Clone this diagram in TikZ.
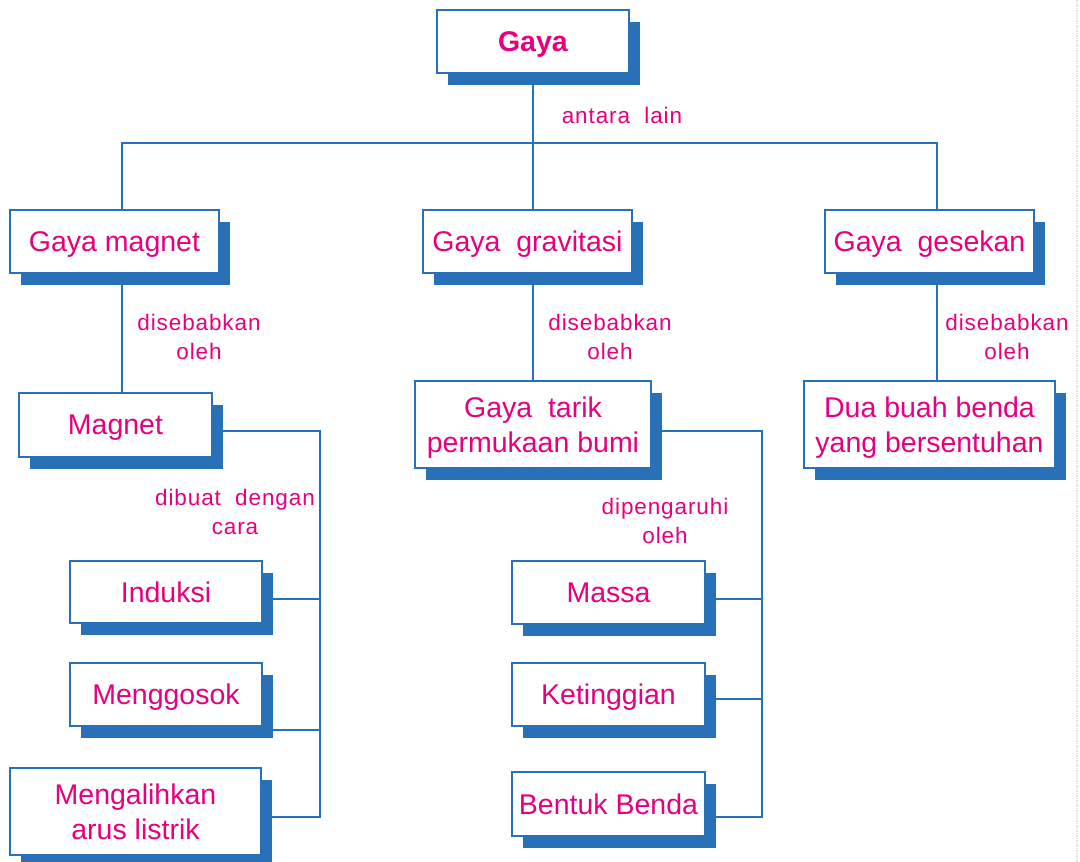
\documentclass[tikz,border=0pt]{standalone}
\usepackage{fontspec}
\setmainfont{Liberation Sans}
\newfontfamily\labelfont[LetterSpace=4]{Liberation Sans}
\usetikzlibrary{shadows,backgrounds,positioning}
\definecolor{mapblue}{RGB}{40,112,184}
\definecolor{mapmagenta}{RGB}{230,0,126}

\begin{document}
\begin{tikzpicture}[
        x=1pt, y=-1pt,
        concept/.style={rectangle, draw=mapblue, line width=1.6pt, fill=white, text=mapmagenta,
            font=\fontsize{28.5}{35}\selectfont, align=center, inner sep=0pt, text depth=0pt,
            drop shadow={shadow xshift=11pt, shadow yshift=-12pt, fill=mapblue, opacity=1}},
        caption/.style={text=mapmagenta, font=\labelfont\fontsize{22.5}{28.5}\selectfont, align=center, inner sep=0pt},
        link/.style={draw=mapblue, line width=2pt}
    ]
        \useasboundingbox (0,0) rectangle (1080,862);

        % Top concept
        \node[concept, minimum width=192pt, minimum height=63pt] (gaya) at (533,41.5) {\textbf{Gaya}};

        % Kinds of force
        \node[concept, minimum width=209pt, minimum height=63pt] (gmag) at (114.5,241.5) {Gaya magnet};
        \node[concept, minimum width=209pt, minimum height=63pt] (ggrav) at (527.5,241.5) {Gaya\ \ gravitasi};
        \node[concept, minimum width=209pt, minimum height=63pt] (ggesek) at (929.5,241.5) {Gaya\ \ gesekan};

        % Causes
        \node[concept, minimum width=193pt, minimum height=64pt] (magnet) at (115.5,425) {Magnet};
        \node[concept, minimum width=236pt, minimum height=87pt] (gtarik) at (533,424.5) {Gaya\ \ tarik\\permukaan bumi};
        \node[concept, minimum width=251pt, minimum height=87pt] (dua) at (929.5,424.5) {Dua buah benda\\yang bersentuhan};

        % Ways to make a magnet
        \node[concept, minimum width=192pt, minimum height=62pt] (induksi) at (166,592) {Induksi};
        \node[concept, minimum width=192pt, minimum height=63pt] (gosok) at (166,694.5) {Menggosok};
        \node[concept, minimum width=251pt, minimum height=87pt] (alihkan) at (135.5,811.5) {Mengalihkan\\arus listrik};

        % What gravity depends on
        \node[concept, minimum width=193pt, minimum height=63pt] (massa) at (608.5,592.5) {Massa};
        \node[concept, minimum width=193pt, minimum height=63pt] (tinggi) at (608.5,694.5) {Ketinggian};
        \node[concept, minimum width=193pt, minimum height=64pt] (bentuk) at (608.5,804) {Bentuk Benda};

        % Labels
        \node[caption] (lAntara) at (622,115) {antara\ \ lain};
        \node[caption] (lSebabL) at (199,337) {disebabkan\\oleh};
        \node[caption] (lSebabM) at (610,337) {disebabkan\\oleh};
        \node[caption] (lSebabR) at (1007,337) {disebabkan\\oleh};
        \node[caption] (lDibuat) at (235,512) {dibuat\ \ dengan\\cara};
        \node[caption] (lPengaruh) at (665,521) {dipengaruhi\\oleh};

        % Columns and buses
        \coordinate (split) at (533,143);
        \coordinate (colL) at (122,0);
        \coordinate (colR) at (937,0);
        \coordinate (busLtop) at (320,431);
        \coordinate (busLbot) at (320,817);
        \coordinate (busRtop) at (762,431);
        \coordinate (busRbot) at (762,817);
        \coordinate (bInduksi) at (320,599);
        \coordinate (bGosok) at (320,730);
        \coordinate (bMassa) at (762,599);
        \coordinate (bTinggi) at (762,699);

        \begin{pgfonlayer}{background}
            % Tree
            \draw[link] (gaya.south) -- (split);
            \draw[link] (colL |- gmag.north) |- (split) -| (colR |- ggesek.north);
            \draw[link] (split) -- (ggrav.north -| split);
            \draw[link] (colL |- gmag.south) -- (colL |- magnet.north);
            \draw[link] (ggrav.south -| gtarik.north) -- (gtarik.north);
            \draw[link] (colR |- ggesek.south) -- (colR |- dua.north);

            % Magnet bus
            \draw[link] (busLtop -| magnet.east) -- (busLtop) -- (busLbot) -- (busLbot -| alihkan.east);
            \draw[link] (bInduksi) -- (bInduksi -| induksi.east);
            \draw[link] (bGosok) -- (bGosok -| gosok.east);

            % Gravity bus
            \draw[link] (busRtop -| gtarik.east) -- (busRtop) -- (busRbot) -- (busRbot -| bentuk.east);
            \draw[link] (bMassa) -- (bMassa -| massa.east);
            \draw[link] (bTinggi) -- (bTinggi -| tinggi.east);
        \end{pgfonlayer}

        % Page edge
        \draw[densely dotted, black!12, line width=1.5pt] (1077,0) -- (1077,862);
\end{tikzpicture}
\end{document}
